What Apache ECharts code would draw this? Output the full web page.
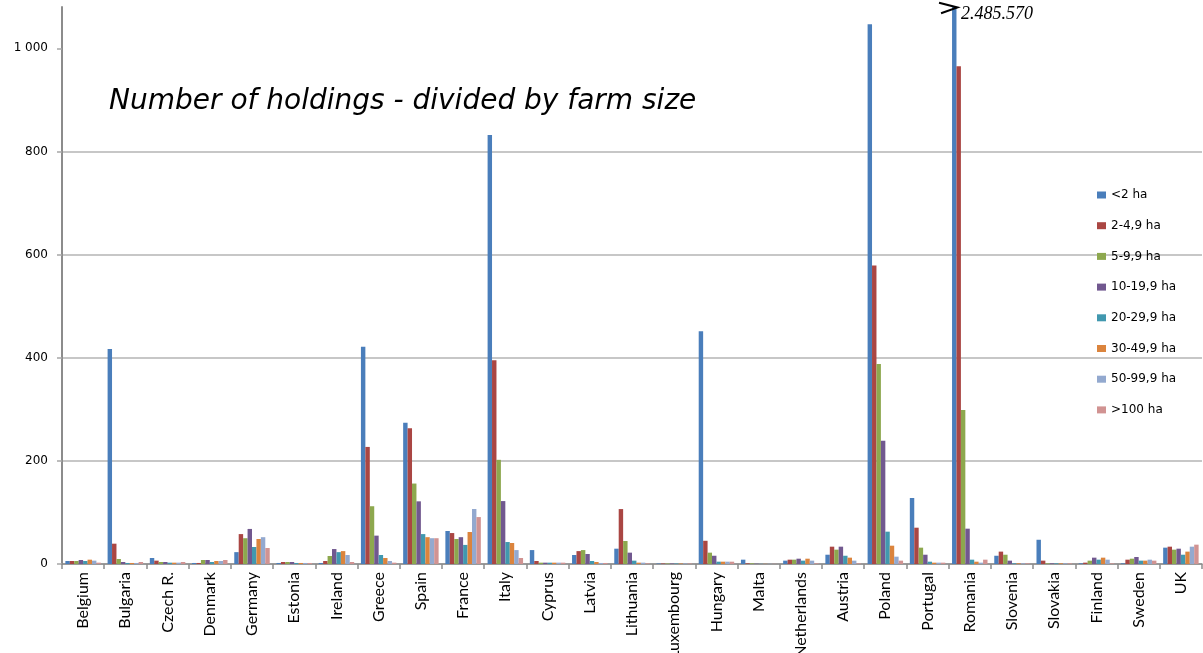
<!DOCTYPE html>
<html>
<head>
<meta charset="utf-8">
<script src="https://cdn.jsdelivr.net/npm/echarts@6/dist/echarts.min.js"></script>
<style>
  html, body { margin: 0; padding: 0; background: #fff; }
  #chart { width: 1203px; height: 653px; }
</style>
</head>
<body>
<div id="chart"></div>
<script>
// Number of agricultural holdings (thousands) by farm size class
const countries = ['Belgium', 'Bulgaria', 'Czech R.', 'Denmark', 'Germany', 'Estonia', 'Ireland', 'Greece',
  'Spain', 'France', 'Italy', 'Cyprus', 'Latvia', 'Lithuania', 'Luxembourg', 'Hungary', 'Malta',
  'Netherlands', 'Austria', 'Poland', 'Portugal', 'Romania', 'Slovenia', 'Slovakia', 'Finland', 'Sweden', 'UK'];

const sizeClasses = ['<2 ha', '2-4,9 ha', '5-9,9 ha', '10-19,9 ha', '20-29,9 ha', '30-49,9 ha', '50-99,9 ha', '>100 ha'];

const under2 = [5.8, 417, 11.6, 2, 23, 2, 2, 421, 274, 64, 832, 27, 17.4, 29.7, 1, 451.5, 8.4, 6.5, 18, 1046.5, 128, 2485.57, 16, 47, 1.3, 1.3, 31.7];
const from2to5 = [5.8, 39.4, 6.5, 2, 58, 3.9, 5.8, 227, 263, 60, 395, 5.8, 25, 106.5, 1, 45, 1.3, 8.4, 33.6, 579, 70.4, 965, 24, 6.5, 2.6, 8.4, 33.6];
const from5to10 = [5.8, 9.7, 3.9, 7.8, 50, 3.9, 15.5, 112, 156, 48.5, 202, 2.6, 27, 44.6, 1, 22, 1.3, 8.4, 27.8, 387.6, 31.7, 298.5, 18, 1.3, 6.5, 10.3, 27.8];
const from10to20 = [7.8, 3.9, 3.9, 7.8, 68, 3.9, 29, 55, 121.5, 52, 122, 2.6, 19.4, 22, 1, 16, 0.6, 10.3, 33.6, 239, 18, 68.5, 6.5, 1.3, 12.3, 13.6, 29.7];
const from20to30 = [5.8, 2, 2.6, 3.9, 33, 2, 23, 17.4, 58, 37, 42.6, 2.6, 5.8, 6.5, 1, 4.5, 0.3, 6.5, 16, 62.7, 4.5, 8.4, 1.3, 1.3, 8.4, 6.5, 18];
const from30to50 = [8.4, 2, 2.6, 5.8, 48.5, 2, 25, 11.6, 52, 62, 40.7, 2.6, 3.9, 2.6, 1, 4.5, 0.3, 10.3, 12.3, 35.5, 2.6, 4.5, 1.3, 1.3, 12.3, 6.5, 24];
const from50to100 = [6.5, 2, 2.6, 5.8, 52, 2, 17.4, 5.8, 50, 106.6, 27, 2.6, 2, 2.6, 1, 4.5, 0.3, 6.5, 6.5, 14.2, 2.6, 2.6, 1.3, 1.3, 8.4, 8.4, 33.6];
const over100 = [2.6, 3.9, 3.9, 7.8, 31, 2, 3.9, 2.6, 50, 91, 11.6, 2.6, 2, 1.3, 1, 4.5, 0.3, 1.3, 1.3, 6.5, 2.6, 8.4, 1.3, 1.3, 1.3, 6.5, 37.5];

const yTicks = [0, 200, 400, 600, 800, 1000];

const palette = ['#4A7EBB', '#AA4643', '#8DA84E', '#71588F', '#4198AF', '#DB843D', '#93A9CF', '#D19392'];
const seriesValues = [under2, from2to5, from5to10, from10to20, from20to30, from30to50, from50to100, over100];

// Off-scale bar (value above the axis maximum) gets its full count written beside it
const Y_MAX = 1080;
const groupDigits = (n, sep) => String(n).replace(/\B(?=(\d{3})+(?!\d))/g, sep);

const series = seriesValues.map((vals, si) => ({
  name: sizeClasses[si],
  type: 'bar',
  barGap: 0,
  barCategoryGap: '16%',
  clip: true,
  itemStyle: { color: palette[si] },
  emphasis: { disabled: true },
  data: vals.map(v => v > Y_MAX ? {
    value: v,
    label: {
      show: true,
      position: [9, 7],
      align: 'left',
      verticalAlign: 'middle',
      formatter: p => groupDigits(Math.round(p.value * 1000), '.'),
      fontFamily: 'Liberation Serif',
      fontStyle: 'italic',
      fontSize: 18,
      color: '#000'
    }
  } : v)
}));

const chart = echarts.init(document.getElementById('chart'), null, { renderer: 'canvas' });

chart.setOption({
  animation: false,
  backgroundColor: '#fff',
  title: {
    text: 'Number of holdings - divided by farm size',
    left: 109,
    top: 88,
    padding: 0,
    textStyle: {
      fontFamily: 'DejaVu Sans',
      fontStyle: 'italic',
      fontWeight: 'normal',
      fontSize: 28,
      color: '#000'
    }
  },
  legend: {
    orient: 'vertical',
    left: 1097,
    top: 188,
    padding: 0,
    icon: 'rect',
    itemWidth: 9,
    itemHeight: 7,
    itemGap: 16.7,
    selectedMode: false,
    data: sizeClasses,
    textStyle: {
      fontFamily: 'DejaVu Sans',
      fontSize: 12,
      lineHeight: 14,
      color: '#000'
    }
  },
  grid: { left: 62, right: 1, top: 7, bottom: 89, containLabel: false, outerBoundsMode: 'none' },
  xAxis: {
    type: 'category',
    data: countries,
    boundaryGap: true,
    axisLine: { lineStyle: { color: '#8C8C8C', width: 1.5 } },
    axisTick: { show: true, interval: 0, length: 5, lineStyle: { color: '#8C8C8C', width: 1.5 } },
    axisLabel: {
      interval: 0,
      rotate: 90,
      margin: 8,
      fontFamily: 'Lato',
      fontSize: 16,
      color: '#000'
    },
    splitLine: { show: false }
  },
  yAxis: {
    type: 'value',
    min: 0,
    max: Y_MAX,
    interval: 200,
    axisLine: { show: true, lineStyle: { color: '#8C8C8C', width: 2 } },
    axisTick: { show: true, length: 5, customValues: yTicks, lineStyle: { color: '#A6A6A6', width: 1.5 } },
    axisLabel: {
      customValues: yTicks,
      margin: 14,
      fontFamily: 'DejaVu Sans',
      fontSize: 12,
      color: '#000',
      formatter: v => groupDigits(v, ' ')
    },
    splitLine: { show: true, showMaxLine: false, lineStyle: { color: '#B4B4B4', width: 1.5 } }
  },
  series: series
});

// Break mark ">" drawn across the top of the off-scale bar
(function drawBreakMark() {
  const idx = under2.findIndex(v => v > Y_MAX);
  if (idx < 0) return;
  const layout = chart.getModel().getSeriesByIndex(0).getData().getItemLayout(idx);
  const topY = chart.convertToPixel({ yAxisIndex: 0 }, Y_MAX);
  const left = layout.x;
  const w = layout.width;
  chart.setOption({
    graphic: [{
      type: 'polyline',
      silent: true,
      z: 100,
      shape: {
        points: [
          [left - 13, topY - 4.3],
          [left + w + 1, topY + 0.5],
          [left - 11, topY + 6.3]
        ]
      },
      style: { stroke: '#000', lineWidth: 2, fill: null, lineJoin: 'miter' }
    }]
  });
})();
</script>
</body>
</html>
